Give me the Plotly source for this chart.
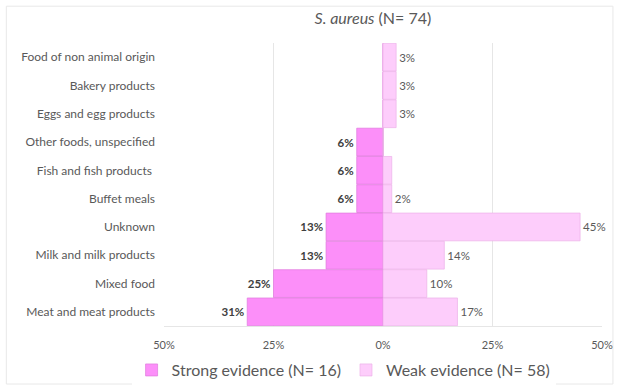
import plotly.graph_objects as go

categories = [
    "Food of non animal origin", "Bakery products", "Eggs and egg products",
    "Other foods, unspecified", "Fish and fish products ", "Buffet meals",
    "Unknown", "Milk and milk products", "Mixed food", "Meat and meat products",
]
strong = [0, 0, 0, 6, 6, 6, 13, 13, 25, 31]
weak = [3, 3, 3, 0, 2, 2, 45, 14, 10, 17]
weak_labels = ["3%", "3%", "3%", "", "", "2%", "45%", "14%", "10%", "17%"]
tick_vals = [-50, -25, 0, 25, 50]
tick_text = ["50%", "25%", "0%", "25%", "50%"]

font = "Lato, Open Sans, sans-serif"
grey = "#595959"

fig = go.Figure()
fig.add_trace(go.Bar(
    y=categories, x=[-v for v in strong], orientation="h",
    name="Strong evidence (N= 16)",
    marker=dict(color="#fc8ff9", line=dict(color="#e07adc", width=0.7)),
    text=[f"<b>{v}%</b>" if v else "" for v in strong],
    textposition="outside", cliponaxis=False,
    textfont=dict(size=11.5, color="#404040", family=font),
))
fig.add_trace(go.Bar(
    y=categories, x=weak, orientation="h",
    name="Weak evidence (N= 58)",
    marker=dict(color="#fdcdfb", line=dict(color="#ecb0e8", width=0.7)),
    text=weak_labels,
    textposition="outside", cliponaxis=False,
    textfont=dict(size=11.5, color=grey, family=font),
))

fig.update_layout(
    width=617, height=392,
    margin=dict(l=164, r=15, t=43, b=66, autoexpand=False),
    barmode="relative", bargap=0.02,
    paper_bgcolor="white", plot_bgcolor="white",
    font=dict(family=font, color=grey, size=11),
    title=dict(text="<i>S. aureus</i> (N= 74)", x=0.477, xref="paper",
               xanchor="center", y=0.953, yanchor="middle",
               font=dict(size=16, color=grey, family=font)),
    xaxis=dict(range=[-50, 50], tickvals=tick_vals, ticktext=tick_text,
               showgrid=True, gridcolor="#e6e6e6", gridwidth=1,
               zeroline=False, showline=True, linecolor="#e6e6e6",
               ticks="", tickfont=dict(size=11, color=grey),
               ticklabelstandoff=9, automargin=False),
    yaxis=dict(categoryorder="array", categoryarray=categories,
               autorange="reversed", showgrid=False, ticks="",
               tickfont=dict(size=12, color=grey), ticklabelstandoff=8,
               automargin=False),
    legend=dict(orientation="h", x=0.41, xanchor="center",
                yref="container", y=0.056, yanchor="middle",
                font=dict(size=16, color=grey, family=font),
                itemwidth=30, traceorder="normal"),
    shapes=[dict(type="rect", xref="paper", yref="paper",
                 x0=-0.36, x1=1.025, y0=-0.205, y1=1.13,
                 line=dict(color="#e8e8e8", width=1), layer="below")],
)

fig.write_html("out.html")
